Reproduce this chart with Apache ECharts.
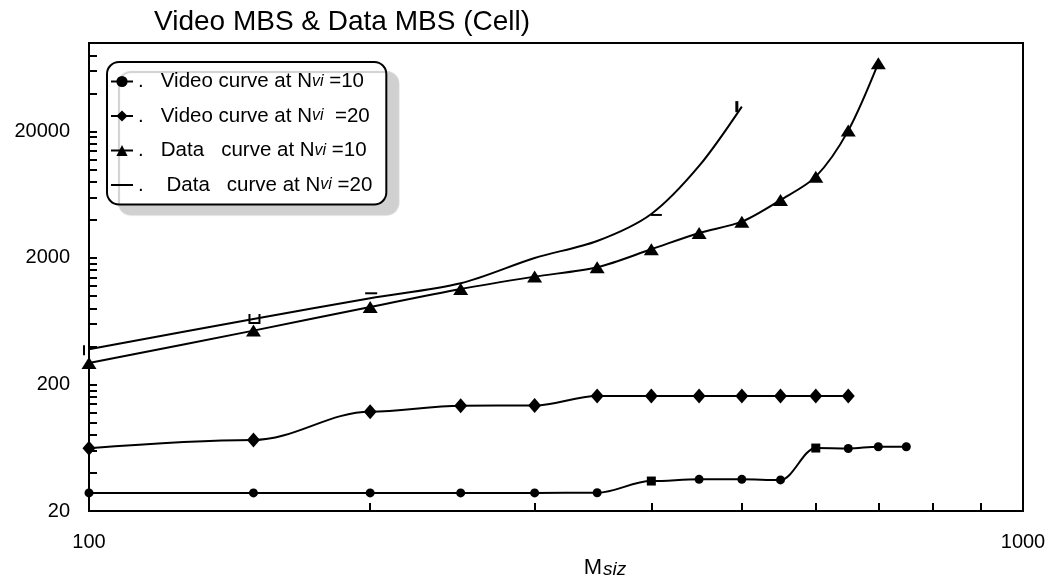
<!DOCTYPE html>
<html><head><meta charset="utf-8">
<script src="https://cdn.jsdelivr.net/npm/echarts@6/dist/echarts.min.js"></script>
<style>html,body{margin:0;padding:0;background:#fff}#c{width:1049px;height:580px}</style>
</head><body><div id="c"></div><script>
// ---- data ----
const titleText = 'Video MBS & Data MBS (Cell)';
const seriesNames = ['Video curve at Nvi=10', 'Video curve at Nvi=20', 'Data curve at Nvi=10', 'Data curve at Nvi=20'];
const msizVideo10 = [100, 150, 200, 250, 300, 350, 400, 450, 500, 550, 600, 650, 700, 750];
const video10 = [27.8, 27.8, 27.8, 27.8, 27.8, 27.9, 34.5, 35.6, 35.6, 35.2, 62.9, 62.4, 64.4, 64.4];
const msizVideo20 = [100, 150, 200, 250, 300, 350, 400, 450, 500, 550, 600, 650];
const video20 = [62.6, 72.8, 121.9, 136, 136.5, 162, 162, 162, 162, 162, 162, 162];
const msizData10 = [100, 150, 200, 250, 300, 350, 400, 450, 500, 550, 600, 650, 700];
const data10 = [296, 533, 820, 1138, 1424, 1688, 2344, 3152, 3873, 5747, 8784, 20300, 69190];
const msizData20 = [100, 150, 200, 250, 300, 350, 400, 450, 500];
const data20 = [379, 659, 960, 1262, 2000, 2725, 4456, 10667, 31410];
const xTickValues = [100, 200, 300, 400, 500, 600, 700, 800, 900, 1000];
const xLabelValues = [100, 1000];
const yLabelValues = [20, 200, 2000, 20000];
const yTickValues = [20, 40, 60, 80, 100, 120, 140, 160, 180, 200, 400, 600, 800, 1000, 1200, 1400, 1600, 1800, 2000,
  4000, 6000, 8000, 10000, 12000, 14000, 16000, 18000, 20000, 40000, 60000, 80000, 100000];

// ---- building ----
const pairs = (xs, ys) => xs.map((x, i) => [x, ys[i]]);
const squareMarks = [400, 600];
// odd glyphs drawn on some points of the last curve in the reference
const glyphs = {
  0: { symbol: 'rect', symbolSize: [2, 10], symbolOffset: [-5, 1] },
  1: { symbol: 'path://M0,0H2V8H10V0H12V10H0Z', symbolSize: [12, 10], symbolOffset: [1, 0] },
  2: { symbol: 'rect', symbolSize: [12, 2], symbolOffset: [1, -5] },
  6: { symbol: 'rect', symbolSize: [11, 2], symbolOffset: [5, 1] },
  8: { symbol: 'rect', symbolSize: [3, 11], symbolOffset: [-5, 0] }
};
const d20 = pairs(msizData20, data20).map((p, i) => glyphs[i] ? Object.assign({ value: p }, glyphs[i]) : { value: p, symbol: 'none' });

const black = '#000';
const FONT = 'Liberation Sans, Arial, sans-serif';
const lineBase = {
  type: 'line',
  lineStyle: { color: black, width: 2 },
  itemStyle: { color: black },
  showAllSymbol: true, animation: false
};

const chart = echarts.init(document.getElementById('c'), null, { renderer: 'canvas' });
chart.setOption({
  animation: false,
  backgroundColor: '#fff',
  title: {
    text: titleText, left: 149, top: 3,
    textStyle: { fontFamily: FONT, fontSize: 28, fontWeight: 'normal', color: black }
  },
  grid: { left: 89, right: 26, top: 43, bottom: 69, containLabel: false, outerBoundsMode: 'none',
    show: true, borderColor: black, borderWidth: 2, backgroundColor: 'transparent' },
  legend: {
    orient: 'vertical', left: 107, top: 62,
    data: [
      { name: seriesNames[0] }, { name: seriesNames[1] }, { name: seriesNames[2] },
      { name: seriesNames[3], icon: 'path://M0,0H22V2H0Z' }
    ],
    padding: [9, 14, 9, 3],
    itemWidth: 22, itemHeight: 14, itemGap: 13.5,
    backgroundColor: '#fff', borderColor: black, borderWidth: 2, borderRadius: 12,
    shadowColor: '#d0d0d0', shadowBlur: 1, shadowOffsetX: 12, shadowOffsetY: 10,
    formatter: function (name) {
      const parts = {
        'Video curve at Nvi=10': '.   Video curve at N{i|vi} =10',
        'Video curve at Nvi=20': '.   Video curve at N{i|vi}  =20',
        'Data curve at Nvi=10': '.   Data   curve at N{i|vi} =10',
        'Data curve at Nvi=20': '.    Data   curve at N{i|vi} =20'
      };
      return parts[name];
    },
    textStyle: {
      fontFamily: FONT, fontSize: 20.5, color: black, lineHeight: 14,
      rich: { i: { fontFamily: FONT, fontSize: 16, fontStyle: 'italic', color: black, lineHeight: 14 } }
    }
  },
  xAxis: {
    type: 'log', logBase: 10, min: 100, max: 1000,
    name: '{m|M}{s|siz}', nameLocation: 'middle', nameGap: 43,
    nameTextStyle: {
      padding: [0, 0, 0, 98],
      rich: {
        m: { fontFamily: FONT, fontSize: 22, color: black },
        s: { fontFamily: FONT, fontSize: 19, fontStyle: 'italic', color: black, padding: [4, 0, 0, 1] }
      }
    },
    axisLine: { lineStyle: { color: black, width: 2 } },
    axisTick: { inside: true, length: 8, lineStyle: { color: black, width: 2 }, customValues: xTickValues },
    axisLabel: { customValues: xLabelValues, margin: 21, fontFamily: FONT, fontSize: 20, color: black, formatter: v => String(Math.round(v)) },
    splitLine: { show: false }, minorTick: { show: false }
  },
  yAxis: {
    type: 'log', logBase: 10, min: 20, max: 100000,
    axisLine: { lineStyle: { color: black, width: 2 } },
    axisTick: { inside: true, length: 8, lineStyle: { color: black, width: 2 }, customValues: yTickValues },
    axisLabel: { customValues: yLabelValues, margin: 19, fontFamily: FONT, fontSize: 20, color: black, formatter: v => String(Math.round(v)) },
    splitLine: { show: false }
  },
  series: [
    Object.assign({}, lineBase, {
      name: seriesNames[0], data: pairs(msizVideo10, video10),
      smooth: 0.35, smoothMonotone: 'x',
      symbol: (val) => squareMarks.indexOf(val[0]) >= 0 ? 'rect' : 'circle', symbolSize: 9
    }),
    Object.assign({}, lineBase, {
      name: seriesNames[1], data: pairs(msizVideo20, video20),
      smooth: 0.35, smoothMonotone: 'x',
      symbol: 'diamond', symbolSize: [13, 15]
    }),
    Object.assign({}, lineBase, {
      name: seriesNames[2], data: pairs(msizData10, data10),
      smooth: 0.3,
      symbol: 'triangle', symbolSize: [15, 12]
    }),
    Object.assign({}, lineBase, {
      name: seriesNames[3], data: d20,
      smooth: 0.3,
      symbol: 'none'
    })
  ]
});
</script></body></html>
